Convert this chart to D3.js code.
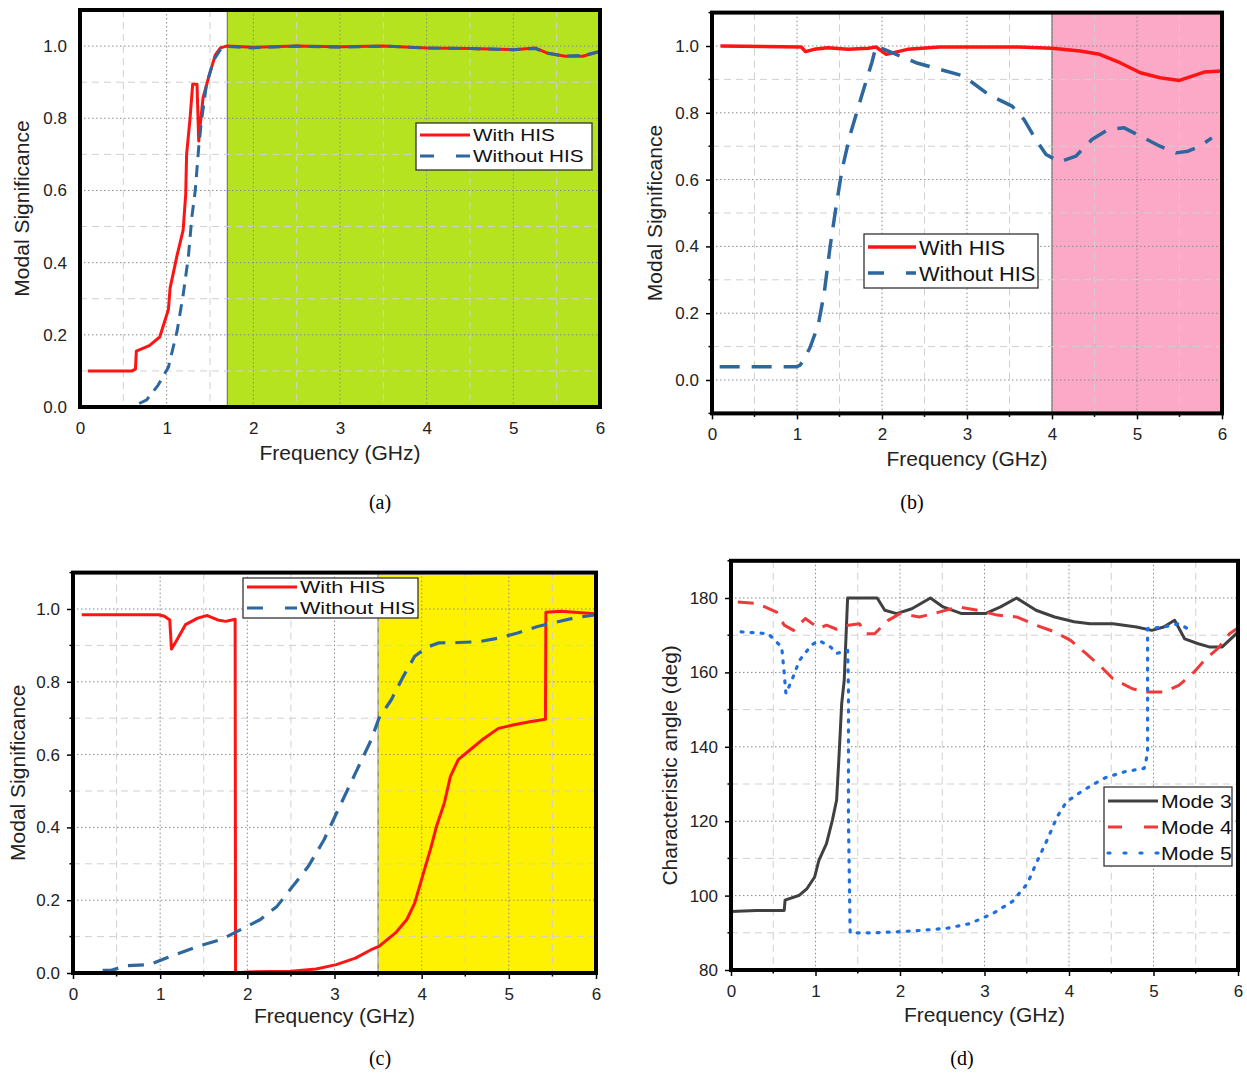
<!DOCTYPE html>
<html><head><meta charset="utf-8">
<script src="https://cdn.jsdelivr.net/npm/d3@7"></script>
<style>body{margin:0;background:#fff}svg{display:block;font-family:"Liberation Sans",Arial,sans-serif}</style>
</head><body>
<svg id="c" width="1247" height="1077"></svg>
<script>
// ---------- DATA ----------
const xTicks = [0,1,2,3,4,5,6];
const msTicks = [0.0,0.2,0.4,0.6,0.8,1.0];
const angTicks = [80,100,120,140,160,180];
const legendHIS = ["With HIS","Without HIS"];
const legendModes = ["Mode 3","Mode 4","Mode 5"];
const captions = ["(a)","(b)","(c)","(d)"];
const xTitle = "Frequency (GHz)";
const yTitleMS = "Modal Significance";
const yTitleAng = "Characteristic angle (deg)";
const bandA = [1.7,6], bandB = [4,6], bandC = [3.5,6];

// (a)
const aWith = [[0.09,0.1],[0.6,0.1],[0.64,0.105],[0.65,0.155],[0.8,0.17],[0.92,0.194],[1.0,0.255],[1.02,0.27],[1.04,0.33],[1.12,0.42],[1.19,0.49],[1.22,0.59],[1.23,0.70],[1.27,0.80],[1.30,0.894],[1.35,0.894],[1.37,0.737],[1.38,0.765],[1.42,0.857],[1.48,0.91],[1.56,0.975],[1.62,0.995],[1.69,1.0],[2.0,0.997],[2.5,1.0],[3.0,0.998],[3.5,1.0],[4.0,0.995],[4.5,0.993],[5.0,0.99],[5.25,0.995],[5.4,0.98],[5.6,0.972],[5.8,0.972],[6.0,0.985]];
const aWithout = [[0.0,0.0],[0.6,0.0],[0.77,0.02],[0.9,0.06],[1.02,0.11],[1.12,0.21],[1.19,0.31],[1.25,0.415],[1.29,0.525],[1.33,0.6],[1.37,0.72],[1.40,0.79],[1.46,0.894],[1.54,0.96],[1.62,0.99],[1.7,0.999],[2.0,0.995],[2.5,1.0],[3.0,0.997],[3.5,1.0],[4.0,0.995],[4.5,0.993],[5.0,0.99],[5.25,0.993],[5.4,0.98],[5.6,0.972],[5.8,0.974],[6.0,0.985]];
// (b)
const bWith = [[0.1,1.0],[1.05,0.997],[1.1,0.983],[1.2,0.99],[1.36,0.995],[1.6,0.99],[1.84,0.993],[1.93,0.997],[2.05,0.975],[2.3,0.99],[2.68,0.997],[3.6,0.997],[4.0,0.993],[4.33,0.985],[4.56,0.975],[4.8,0.95],[5.04,0.92],[5.27,0.905],[5.5,0.897],[5.65,0.91],[5.79,0.922],[6.0,0.925]];
const bWithout = [[0.09,0.04],[1.0,0.04],[1.04,0.045],[1.15,0.095],[1.25,0.165],[1.32,0.26],[1.39,0.40],[1.46,0.52],[1.53,0.63],[1.62,0.73],[1.76,0.85],[1.88,0.95],[1.93,1.0],[2.12,0.98],[2.4,0.95],[2.68,0.93],[2.96,0.91],[3.25,0.855],[3.53,0.82],[3.67,0.78],[3.81,0.72],[3.93,0.675],[4.09,0.653],[4.28,0.67],[4.47,0.72],[4.66,0.75],[4.85,0.755],[5.04,0.73],[5.27,0.70],[5.46,0.68],[5.6,0.685],[5.74,0.70],[5.88,0.725]];
// (c)
const cWith = [[0.1,0.984],[0.98,0.984],[1.05,0.98],[1.11,0.97],[1.13,0.89],[1.18,0.91],[1.29,0.957],[1.43,0.975],[1.54,0.982],[1.66,0.97],[1.75,0.966],[1.86,0.972],[1.865,0.0],[2.0,0.003],[2.5,0.005],[2.79,0.011],[3.02,0.023],[3.24,0.041],[3.42,0.064],[3.51,0.073],[3.70,0.11],[3.83,0.147],[3.92,0.192],[4.01,0.266],[4.10,0.339],[4.17,0.403],[4.26,0.467],[4.33,0.54],[4.42,0.586],[4.56,0.614],[4.69,0.64],[4.88,0.672],[5.06,0.682],[5.24,0.69],[5.42,0.697],[5.425,0.991],[5.6,0.994],[5.87,0.989],[6.0,0.987]];
const cWithout = [[0.34,0.007],[0.43,0.007],[0.61,0.02],[0.88,0.023],[1.07,0.041],[1.43,0.073],[1.70,0.092],[1.93,0.12],[2.15,0.147],[2.34,0.183],[2.52,0.238],[2.70,0.293],[2.88,0.366],[3.06,0.458],[3.24,0.549],[3.42,0.64],[3.51,0.70],[3.65,0.75],[3.79,0.815],[3.92,0.87],[4.06,0.895],[4.20,0.907],[4.42,0.908],[4.65,0.91],[4.88,0.92],[5.10,0.934],[5.33,0.952],[5.51,0.962],[5.74,0.975],[5.99,0.984]];
// (d)
const mode3 = [[0.0,95.7],[0.3,96.0],[0.63,96.0],[0.64,98.8],[0.81,100.1],[0.90,101.9],[0.99,105],[1.04,109.5],[1.13,114],[1.20,120.3],[1.25,125.7],[1.28,138.2],[1.31,151.6],[1.34,157.9],[1.38,180],[1.73,180],[1.82,176.7],[1.96,175.8],[2.14,177.1],[2.36,180],[2.51,177.6],[2.73,175.8],[3.01,175.8],[3.19,177.6],[3.38,180],[3.61,176.7],[3.83,174.9],[4.06,173.6],[4.25,173.1],[4.52,173.1],[4.80,172.2],[4.98,171.3],[5.12,172.2],[5.25,174],[5.37,169],[5.53,167.7],[5.67,166.8],[5.81,166.8],[6.0,170.8]];
const mode4 = [[0.08,178.9],[0.31,178.5],[0.54,176.2],[0.63,172.7],[0.74,171.3],[0.88,174.5],[1.04,171.8],[1.13,172.7],[1.25,171.6],[1.34,172.5],[1.52,173.1],[1.59,170.4],[1.70,170.4],[1.86,174],[2.0,175.8],[2.23,174.9],[2.46,176.2],[2.69,177.6],[2.92,176.7],[3.15,175.4],[3.38,174.9],[3.61,172.7],[3.83,170.9],[4.02,168.6],[4.20,165.1],[4.38,161.5],[4.52,158.3],[4.75,155.6],[4.93,154.7],[5.12,154.7],[5.30,156.5],[5.48,160.1],[5.62,163.7],[5.76,166.4],[5.90,170.4],[5.99,171.8]];
const mode5 = [[0.12,170.9],[0.44,170.4],[0.60,166.8],[0.63,159.7],[0.65,154.3],[0.72,157.9],[0.81,163.2],[0.95,167.3],[1.04,168.6],[1.18,166.8],[1.25,165.1],[1.38,165.9],[1.39,156.0],[1.39,120.3],[1.41,90],[1.68,90],[2.0,90.3],[2.28,90.7],[2.55,91.2],[2.83,92.5],[3.10,95.2],[3.33,98.4],[3.51,103.3],[3.61,108.6],[3.74,114.9],[3.86,121.2],[3.97,125.2],[4.11,127.4],[4.25,129.4],[4.43,131.7],[4.66,133.3],[4.89,134.2],[4.93,138.2],[4.93,165.1],[4.93,171.8],[5.12,172.2],[5.30,173.1],[5.44,171.3]];

// ---------- DRAW ----------
const svg = d3.select("#c");
const RED = "#ff1414", BLUE = "#2e679e";

function panel(o){
  const x = d3.scaleLinear().domain([0,6]).range([o.l,o.r]);
  const y = d3.scaleLinear().domain(o.yd).range([o.b,o.t]);
  const g = svg.append("g");
  if(o.band){
    const bt = o.bandTop!=null?o.bandTop:o.t;
    g.append("rect").attr("x",x(o.band[0])).attr("y",bt)
      .attr("width",x(o.band[1])-x(o.band[0])).attr("height",o.b-bt).attr("fill",o.bandColor);
    g.append("line").attr("x1",x(o.band[0])).attr("x2",x(o.band[0])).attr("y1",bt).attr("y2",o.b)
      .attr("stroke","#777").attr("stroke-width",1.2);
  }
  const yStep = o.ticks[1]-o.ticks[0];
  const yMinor = d3.range(o.yd[0], o.yd[1]+1e-9, yStep/2).filter(v=>!o.ticks.some(t=>Math.abs(t-v)<1e-9));
  const xMinor = d3.range(0.5,6,1);
  xMinor.forEach(v=>g.append("line").attr("x1",x(v)).attr("x2",x(v)).attr("y1",o.t).attr("y2",o.b)
      .attr("stroke","#d0d0d0").attr("stroke-width",1).attr("stroke-dasharray","7,5"));
  yMinor.forEach(v=>g.append("line").attr("y1",y(v)).attr("y2",y(v)).attr("x1",o.l).attr("x2",o.r)
      .attr("stroke","#d0d0d0").attr("stroke-width",1).attr("stroke-dasharray","7,5"));
  xTicks.slice(1,-1).forEach(v=>g.append("line").attr("x1",x(v)).attr("x2",x(v)).attr("y1",o.t).attr("y2",o.b)
      .attr("stroke","#8a8a8a").attr("stroke-width",1).attr("stroke-dasharray","1.5,2.5"));
  o.ticks.forEach(v=>g.append("line").attr("y1",y(v)).attr("y2",y(v)).attr("x1",o.l).attr("x2",o.r)
      .attr("stroke","#8a8a8a").attr("stroke-width",1).attr("stroke-dasharray","1.5,2.5"));
  const line = d3.line().x(d=>x(d[0])).y(d=>y(d[1]));
  const clipId = "clip"+o.id;
  svg.append("clipPath").attr("id",clipId).append("rect").attr("x",o.l).attr("y",o.t).attr("width",o.r-o.l).attr("height",o.b-o.t);
  o.series.forEach(s=>{
    g.append("path").attr("d",line(s.data)).attr("fill","none").attr("stroke",s.color)
      .attr("stroke-width",s.w).attr("stroke-dasharray",s.dash||null)
      .attr("stroke-linecap",s.cap||"butt").attr("stroke-linejoin","round").attr("clip-path",`url(#${clipId})`);
  });
  const tk = o.noTicks?0:6;
  const ax = g.append("g").attr("transform",`translate(0,${o.b})`)
    .call(d3.axisBottom(x).tickValues(xTicks).tickFormat(d3.format("d")).tickSize(tk).tickPadding(15-tk));
  const ay = g.append("g").attr("transform",`translate(${o.l},0)`)
    .call(d3.axisLeft(y).tickValues(o.ticks).tickFormat(o.fmt).tickSize(tk).tickPadding(13-tk));
  [ax,ay].forEach(a=>{a.select(".domain").remove();a.selectAll("text").attr("font-size",o.tfs).attr("fill","#222").attr("font-family","Liberation Sans, Arial");a.selectAll("line").attr("stroke","#000").attr("stroke-width",1.5);});
  if(!o.noTicks){
    xMinor.forEach(v=>g.append("line").attr("x1",x(v)).attr("x2",x(v)).attr("y1",o.b).attr("y2",o.b+3.5).attr("stroke","#000").attr("stroke-width",1.5));
    yMinor.forEach(v=>g.append("line").attr("y1",y(v)).attr("y2",y(v)).attr("x1",o.l).attr("x2",o.l-3.5).attr("stroke","#000").attr("stroke-width",1.5));
  }
  g.append("rect").attr("x",o.l).attr("y",o.t).attr("width",o.r-o.l).attr("height",o.b-o.t)
    .attr("fill","none").attr("stroke","#000").attr("stroke-width",4);
  g.append("text").attr("x",(o.l+o.r)/2).attr("y",o.xty).attr("text-anchor","middle")
    .attr("font-size",o.afs).attr("fill","#222").text(xTitle);
  g.append("text").attr("transform",`translate(${o.ytx},${(o.t+o.b)/2}) rotate(-90)`).attr("text-anchor","middle")
    .attr("font-size",o.afs).attr("fill","#222").text(o.ytitle);
  const L = o.legend;
  g.append("rect").attr("x",L.x).attr("y",L.y).attr("width",L.w).attr("height",L.h)
    .attr("fill","#fff").attr("stroke","#333").attr("stroke-width",1.3);
  o.series.forEach((s,i)=>{
    const cy = L.y + L.pad + i*L.row;
    g.append("line").attr("x1",L.x+4).attr("x2",L.x+4+L.len).attr("y1",cy).attr("y2",cy)
      .attr("stroke",s.color).attr("stroke-width",s.w).attr("stroke-dasharray",s.ldash||s.dash||null).attr("stroke-linecap",s.cap||"butt");
    g.append("text").attr("transform",`translate(${L.x+7+L.len},${cy}) scale(${L.sx},1)`).attr("dy","0.36em").attr("font-size",L.fs)
      .attr("fill","#111").text(s.name);
  });
  svg.append("text").attr("x",o.cap[0]).attr("y",o.cap[1]).attr("text-anchor","middle")
    .attr("font-family","Liberation Serif, Times New Roman, serif").attr("font-size",20).attr("fill","#000").text(o.capText);
}

const f1 = d3.format(".1f");
panel({id:"a",l:80,r:600,t:10,b:407,yd:[0,1.1],ticks:msTicks,fmt:f1,tfs:17,afs:21,noTicks:true,
  band:bandA,bandColor:"#b6e31f",xty:460,ytx:29,ytitle:yTitleMS,
  legend:{x:416,y:123,w:176,h:47,pad:12,row:21,len:50,fs:17,sx:1.22},
  cap:[380,509],capText:captions[0],
  series:[{name:legendHIS[0],data:aWith,color:RED,w:3},
          {name:legendHIS[1],data:aWithout,color:BLUE,w:3,dash:"12,8",ldash:"14,22"}]});
panel({id:"b",l:712,r:1222,t:12.6,b:413.4,yd:[-0.1,1.1],ticks:msTicks,fmt:f1,tfs:17,afs:21,
  band:bandB,bandTop:14,bandColor:"#fba9c6",xty:466,ytx:662,ytitle:yTitleMS,
  legend:{x:864,y:234,w:174,h:54,pad:13,row:26,len:48,fs:21,sx:1.04},
  cap:[912,509],capText:captions[1],
  series:[{name:legendHIS[0],data:bWith,color:RED,w:3.5},
          {name:legendHIS[1],data:bWithout,color:BLUE,w:3.5,dash:"20,12",ldash:"16,22"}]});
panel({id:"c",l:73,r:596,t:572.6,b:973,yd:[0,1.1],ticks:msTicks,fmt:f1,tfs:17,afs:21,
  band:bandC,bandTop:575,bandColor:"#fff200",xty:1023,ytx:25,ytitle:yTitleMS,
  legend:{x:243,y:578,w:175,h:40,pad:9,row:21,len:50,fs:17,sx:1.27},
  cap:[380,1065],capText:captions[2],
  series:[{name:legendHIS[0],data:cWith,color:RED,w:3},
          {name:legendHIS[1],data:cWithout,color:BLUE,w:3.2,dash:"16,10",ldash:"16,22"}]});
panel({id:"d",l:731,r:1238,t:560.8,b:970,yd:[80,190],ticks:angTicks,fmt:d3.format("d"),tfs:17,afs:21,
  xty:1022,ytx:677,ytitle:yTitleAng,
  legend:{x:1104,y:787,w:128,h:79,pad:14,row:26,len:50,fs:18.5,sx:1.15},
  cap:[962,1065],capText:captions[3],
  series:[{name:legendModes[0],data:mode3,color:"#404040",w:3},
          {name:legendModes[1],data:mode4,color:"#f03a3a",w:3,dash:"16,10",ldash:"14,22"},
          {name:legendModes[2],data:mode5,color:"#1f6fe0",w:3.2,dash:"2,8",ldash:"2,14",cap:"round"}]});
</script>
</body></html>
